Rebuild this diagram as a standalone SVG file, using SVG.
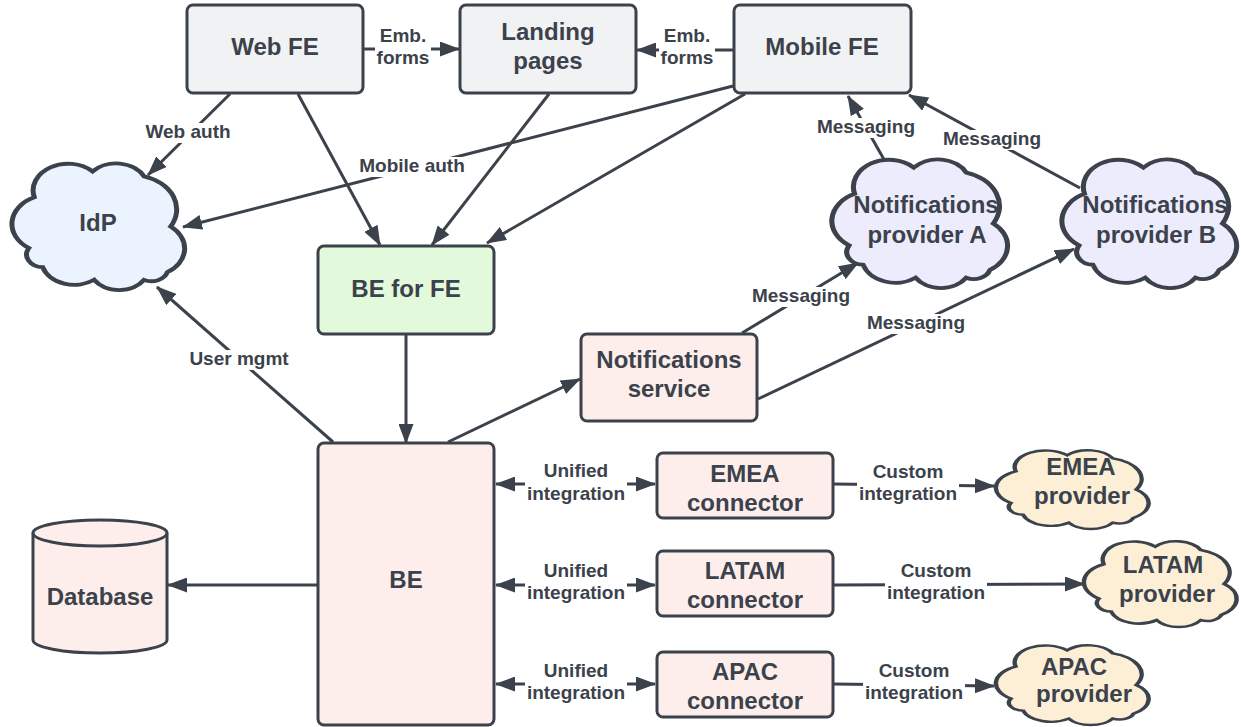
<svg xmlns="http://www.w3.org/2000/svg" width="1241" height="727" viewBox="0 0 1241 727">
<style>
.n{stroke:#3b424b;stroke-width:3}
.g{fill:#f1f2f4}.gr{fill:#e2f9dc}.p{fill:#fdeeec}.b{fill:#eaf3fe}.v{fill:#edecfd}.c{fill:#fcefd6}
.cl{stroke:#3b424b;stroke-width:3;vector-effect:non-scaling-stroke}
.t{font-family:"Liberation Sans",Arial,sans-serif;font-weight:bold;font-size:24px;fill:#3b424b;text-anchor:middle}
.l{font-family:"Liberation Sans",Arial,sans-serif;font-weight:bold;font-size:19px;fill:#3b424b;text-anchor:middle}
.e{fill:none;stroke:#3b424b;stroke-width:3;marker-end:url(#ah)}
.e2{fill:none;stroke:#3b424b;stroke-width:3;marker-end:url(#ah);marker-start:url(#ah)}
.lb{fill:#ffffff}
</style>
<defs>
<marker id="ah" markerUnits="userSpaceOnUse" markerWidth="20" markerHeight="15" refX="19" refY="7.5" orient="auto-start-reverse" viewBox="0 0 20 15"><path d="M0,0 L20,7.5 L0,15 z" fill="#3b424b"/></marker>
<path id="cloud" d="M7.7,67 A23,23 0 0 1 11,27 A21,21 0 0 1 46,6.6 A19,19 0 0 1 77,10.5 A27,27 0 0 1 93,50 A22,22 0 0 1 91,86 A10,10 0 0 1 77,92 A18,18 0 0 1 47,92 A20,20 0 0 1 16,82 A10,10 0 0 1 7.7,67 Z"/>
</defs>
<rect width="1241" height="727" fill="#ffffff"/>
<g id="connectors">
<line class="e" x1="363" y1="49" x2="459" y2="49"/>
<line class="e" x1="734" y1="50" x2="637" y2="50"/>
<line class="e" x1="230" y1="94" x2="148" y2="175"/>
<line class="e" x1="733" y1="86" x2="183" y2="227"/>
<line class="e" x1="298" y1="94" x2="380" y2="245"/>
<line class="e" x1="549" y1="94" x2="432" y2="245"/>
<line class="e" x1="745" y1="94" x2="487" y2="243"/>
<line class="e" x1="406" y1="334" x2="406" y2="443"/>
<line class="e" x1="333" y1="442" x2="157" y2="287"/>
<line class="e" x1="318" y1="585" x2="168" y2="585"/>
<line class="e" x1="448" y1="442" x2="580" y2="379"/>
<line class="e" x1="742" y1="333" x2="858" y2="263"/>
<line class="e" x1="758" y1="399" x2="1074" y2="249"/>
<line class="e" x1="886" y1="163" x2="848" y2="96"/>
<line class="e" x1="1080" y1="188" x2="909" y2="95"/>
<line class="e2" x1="496" y1="484" x2="655" y2="484"/>
<line class="e2" x1="496" y1="585" x2="655" y2="585"/>
<line class="e2" x1="496" y1="684" x2="655" y2="684"/>
<line class="e" x1="833" y1="484" x2="994" y2="486"/>
<line class="e" x1="833" y1="585" x2="1084" y2="584"/>
<line class="e" x1="833" y1="684" x2="994" y2="686"/>
<g id="labels">
<rect class="lb" x="375" y="27" width="56" height="42"/>
<text class="l" x="403" y="42">Emb.</text><text class="l" x="403" y="64">forms</text>
<rect class="lb" x="659" y="27" width="56" height="42"/>
<text class="l" x="687" y="42">Emb.</text><text class="l" x="687" y="64">forms</text>
<rect class="lb" x="144" y="123" width="88" height="20"/>
<text class="l" x="188" y="138">Web auth</text>
<rect class="lb" x="358" y="157" width="108" height="20"/>
<text class="l" x="412" y="172">Mobile auth</text>
<rect class="lb" x="188" y="350" width="102" height="20"/>
<text class="l" x="239" y="365">User mgmt</text>
<rect class="lb" x="816" y="118" width="100" height="20"/>
<text class="l" x="866" y="133">Messaging</text>
<rect class="lb" x="942" y="130" width="100" height="20"/>
<text class="l" x="992" y="145">Messaging</text>
<rect class="lb" x="751" y="287" width="100" height="20"/>
<text class="l" x="801" y="302">Messaging</text>
<rect class="lb" x="866" y="314" width="100" height="20"/>
<text class="l" x="916" y="329">Messaging</text>
<rect class="lb" x="525" y="462" width="102" height="43"/>
<text class="l" x="576" y="477">Unified</text><text class="l" x="576" y="500">integration</text>
<rect class="lb" x="525" y="562" width="102" height="43"/>
<text class="l" x="576" y="577">Unified</text><text class="l" x="576" y="599">integration</text>
<rect class="lb" x="525" y="662" width="102" height="43"/>
<text class="l" x="576" y="677">Unified</text><text class="l" x="576" y="699">integration</text>
<rect class="lb" x="857" y="463" width="102" height="42"/>
<text class="l" x="908" y="478">Custom</text><text class="l" x="908" y="500">integration</text>
<rect class="lb" x="885" y="562" width="102" height="42"/>
<text class="l" x="936" y="577">Custom</text><text class="l" x="936" y="599">integration</text>
<rect class="lb" x="863" y="662" width="102" height="42"/>
<text class="l" x="914" y="677">Custom</text><text class="l" x="914" y="699">integration</text>
</g>
</g>
<g id="web-fe"><rect class="n g" x="187" y="5" width="176" height="88" rx="6"/><text class="t" x="275" y="55">Web FE</text></g>
<g id="landing-pages"><rect class="n g" x="460" y="5" width="176" height="88" rx="6"/><text class="t" x="548" y="40">Landing</text><text class="t" x="548" y="69">pages</text></g>
<g id="mobile-fe"><rect class="n g" x="734" y="5" width="177" height="88" rx="6"/><text class="t" x="822" y="55">Mobile FE</text></g>
<g id="idp"><use href="#cloud" class="cl b" transform="translate(16,163) scale(1.663,1.27)"/><text class="t" x="98" y="231">IdP</text></g>
<g id="be-for-fe"><rect class="n gr" x="318" y="246" width="176" height="88" rx="6"/><text class="t" x="406" y="297">BE for FE</text></g>
<g id="be"><rect class="n p" x="318" y="443" width="176" height="282" rx="6"/><text class="t" x="406" y="588">BE</text></g>
<g id="database"><path class="n p" d="M33,533 A67,13 0 0 1 167,533 L167,640 A67,13 0 0 1 33,640 Z"/><path d="M33,533 A67,13 0 0 0 167,533" fill="none" stroke="#3b424b" stroke-width="3"/><text class="t" x="100" y="605">Database</text></g>
<g id="notifications-service"><rect class="n p" x="581" y="334" width="176" height="87" rx="6"/><text class="t" x="669" y="368">Notifications</text><text class="t" x="669" y="397">service</text></g>
<g id="provider-a"><use href="#cloud" class="cl v" transform="translate(836,159) scale(1.692,1.29)"/><text class="t" x="926" y="213">Notifications</text><text class="t" x="927" y="243">provider A</text></g>
<g id="provider-b"><use href="#cloud" class="cl v" transform="translate(1066,159) scale(1.683,1.29)"/><text class="t" x="1155" y="213">Notifications</text><text class="t" x="1156" y="243">provider B</text></g>
<g id="emea-connector"><rect class="n p" x="657" y="453" width="176" height="65" rx="6"/><text class="t" x="745" y="482">EMEA</text><text class="t" x="745" y="511">connector</text></g>
<g id="latam-connector"><rect class="n p" x="657" y="551" width="176" height="65" rx="6"/><text class="t" x="745" y="579">LATAM</text><text class="t" x="745" y="608">connector</text></g>
<g id="apac-connector"><rect class="n p" x="657" y="652" width="176" height="65" rx="6"/><text class="t" x="745" y="680">APAC</text><text class="t" x="745" y="709">connector</text></g>
<g id="emea-provider"><use href="#cloud" class="cl c" transform="translate(999.5,450) scale(1.471,0.79)"/><text class="t" x="1081" y="475">EMEA</text><text class="t" x="1082" y="504">provider</text></g>
<g id="latam-provider"><use href="#cloud" class="cl c" transform="translate(1087.5,541) scale(1.471,0.86)"/><text class="t" x="1163" y="573">LATAM</text><text class="t" x="1167" y="602">provider</text></g>
<g id="apac-provider"><use href="#cloud" class="cl c" transform="translate(999.5,645) scale(1.471,0.80)"/><text class="t" x="1074" y="675">APAC</text><text class="t" x="1084" y="702">provider</text></g>
</svg>
